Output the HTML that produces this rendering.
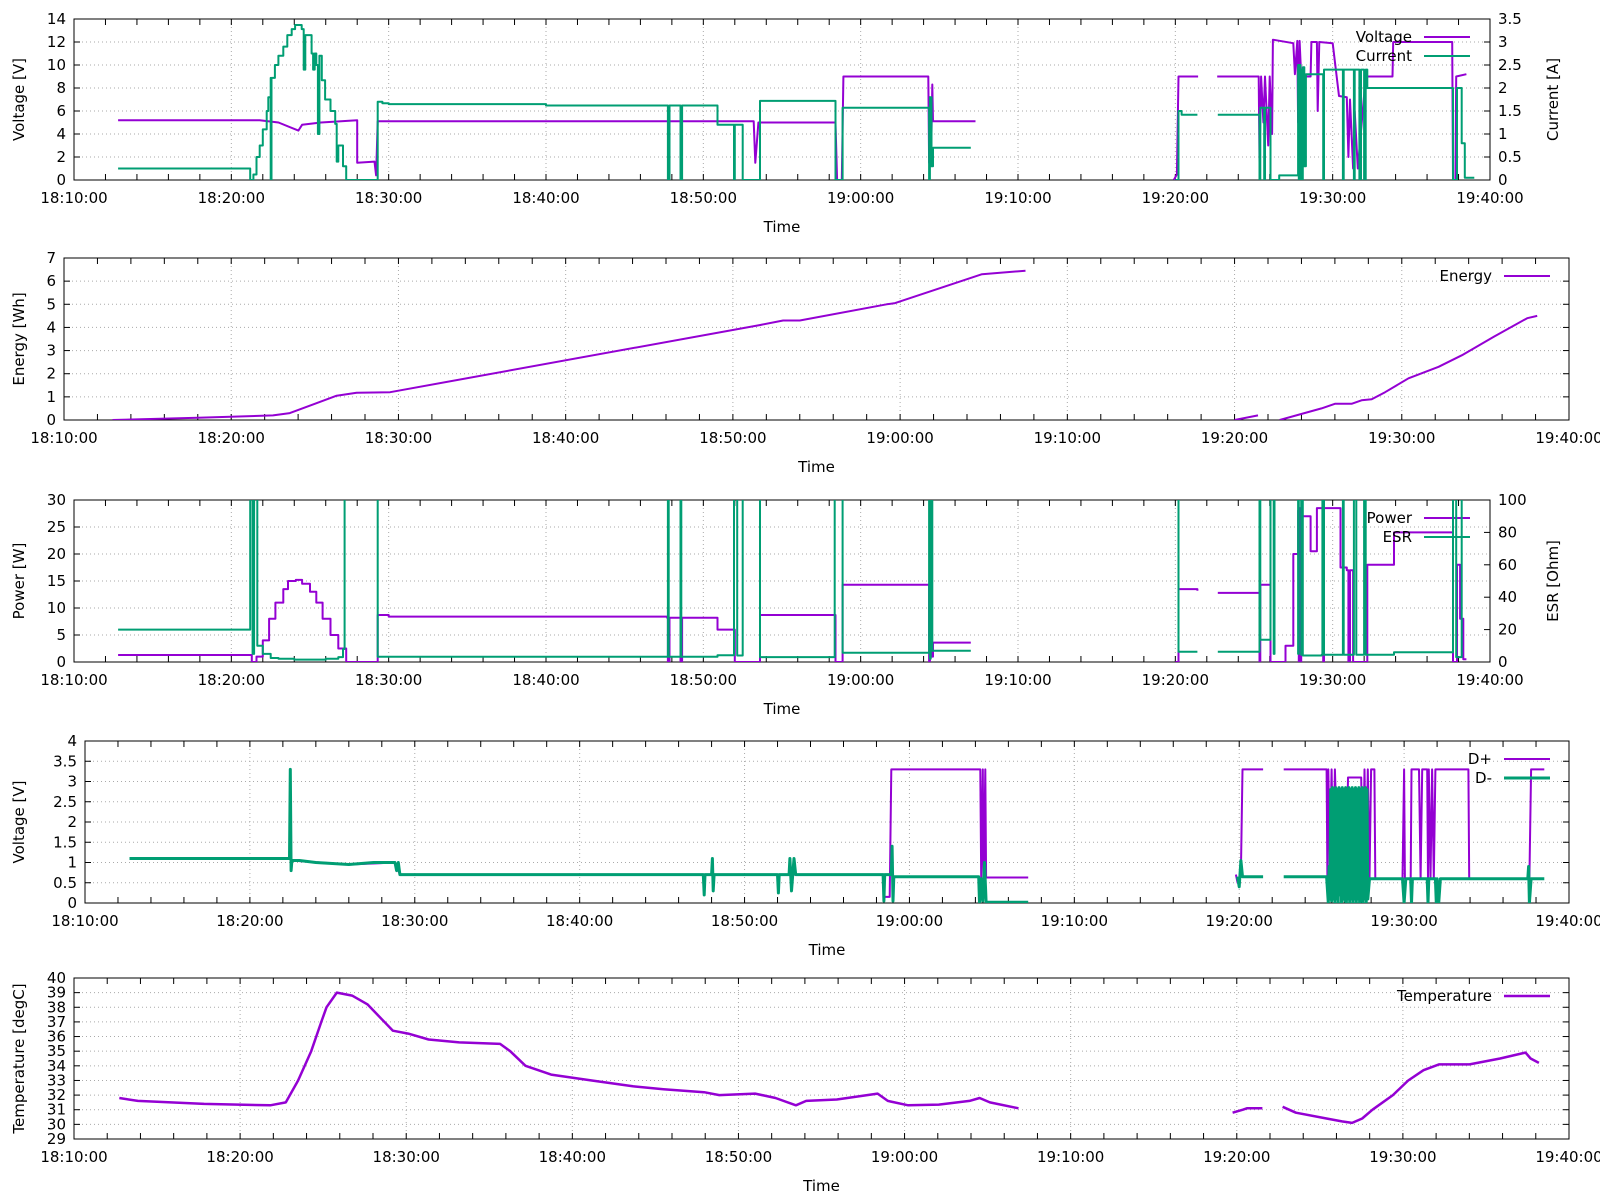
<!DOCTYPE html>
<html><head><meta charset="utf-8"><style>
html,body{margin:0;padding:0;background:#fff;}
svg{display:block;font-family:"DejaVu Sans","Liberation Sans",sans-serif;}
</style></head><body>
<svg id="chart" width="1600" height="1200" viewBox="0 0 1600 1200" xmlns="http://www.w3.org/2000/svg"></svg>
<script>
// ---- data (time in minutes after 18:10:00) ----
const xTickLabels = ["18:10:00","18:20:00","18:30:00","18:40:00","18:50:00","19:00:00","19:10:00","19:20:00","19:30:00","19:40:00"];
const voltageSeries = [[2.8,5.2],[11.8,5.2],[13,5.0],[14.26,4.3],[14.5,4.8],[15.7,5.0],[18.0,5.2],[18.0,1.5],[19.1,1.6],[19.2,0.4],[19.3,5.1],[43.2,5.1],[43.3,1.5],[43.5,5.0],[48.4,5.0],[48.5,0],[48.8,0],[48.9,9.0],[54.3,9.0],[54.35,1.5],[54.4,7.2],[54.5,4],[54.55,8.3],[54.6,5.1],[57.3,5.1],null,[69.9,0],[70.1,0.5],[70.2,9.0],[71.45,9.0],null,[72.66,9.0],[75.3,9.0],[75.35,1.5],[75.45,9],[75.6,5],[75.7,9],[75.9,3],[76.0,9],[76.15,4],[76.2,12.2],[77.5,11.9],[77.6,9.2],[77.75,12.1],[77.8,5],[77.9,12.1],[78.0,9.0],[78.6,9.0],[78.65,12],[79.0,12],[79.05,6],[79.15,12],[80.0,11.9],[80.4,7.3],[80.9,7.2],[81.0,2],[81.1,7.0],[81.3,1],[81.4,6],[81.6,1],[82.1,9.0],[83.8,9.0],[83.85,12.0],[87.6,12.0],[87.65,0],[87.8,0],[87.85,9.0],[88.5,9.2]];
const currentSeries = [[2.8,0.25],[11.2,0.25],[11.2,0],[11.4,0.12],[11.6,0.5],[11.8,0.75],[12.0,1.1],[12.25,1.5],[12.35,1.8],[12.5,2.22],[12.5,0],[12.55,2.22],[12.77,2.5],[12.99,2.7],[13.3,2.9],[13.56,3.15],[13.84,3.28],[14.05,3.37],[14.47,3.28],[14.6,2.4],[14.7,3.15],[14.8,3.15],[15.1,2.75],[15.2,2.4],[15.3,2.75],[15.4,2.5],[15.5,1.0],[15.6,2.7],[15.75,2.17],[15.96,1.75],[16.3,1.5],[16.6,1.22],[16.7,0.4],[16.8,0.75],[16.9,0.75],[17.1,0.3],[17.3,0],[19.2,0],[19.3,1.7],[19.6,1.67],[20,1.65],[30,1.62],[37.7,1.62],[37.75,0],[37.85,1.62],[38.5,1.62],[38.55,0],[38.65,1.62],[40.9,1.62],[40.9,1.2],[41.9,1.2],[41.95,0],[42.0,1.2],[42.5,0],[43.5,0],[43.6,1.72],[48.3,1.72],[48.4,0],[48.8,0],[48.85,1.57],[54.3,1.57],[54.35,0],[54.4,1.8],[54.5,0.3],[54.6,0.7],[57.0,0.7],null,[70.0,0],[70.2,1.5],[70.4,1.42],[71.4,1.42],null,[72.7,1.42],[75.3,1.42],[75.35,0],[75.4,1.57],[75.6,1.57],[75.65,0],[75.7,1.57],[76.0,1.57],[76.05,0],[76.3,0],[76.6,0.1],[77.2,0.1],[77.8,2.5],[77.85,0],[77.9,2.5],[77.95,0],[78.0,2.4],[78.05,0],[78.1,2.45],[78.2,0.3],[78.3,2.3],[78.6,2.3],[79.3,2.3],[79.4,0],[79.45,2.4],[80.6,2.4],[80.65,0],[80.7,2.4],[81.3,2.4],[81.35,0],[81.4,2.4],[81.7,0],[81.8,2.4],[82.0,0],[82.1,2.4],[82.2,2.0],[87.6,2.0],[87.65,0],[87.8,0],[87.9,2.0],[88.2,0.8],[88.4,0.05],[89,0.05]];
const energySeries = [[2.9,0],[8,0.1],[12.5,0.2],[13.5,0.3],[15,0.7],[16.3,1.05],[17.5,1.18],[19.5,1.2],[41.6,4.1],[43,4.3],[44,4.3],[49.2,5.0],[49.7,5.05],[54.9,6.3],[57.5,6.45],null,[70.0,0],[71.4,0.2],null,[72.7,0],[75.2,0.5],[76,0.7],[77,0.7],[77.6,0.85],[78.2,0.9],[79,1.2],[80.4,1.8],[82.2,2.3],[83.6,2.8],[85.5,3.6],[87.5,4.4],[88.1,4.5]];
const powerSeries = [[2.8,1.3],[11.2,1.3],[11.3,0],[11.6,1],[12,4],[12.4,8],[12.8,11],[13.3,13.5],[13.6,15],[14.1,15.2],[14.5,14.5],[15,13],[15.4,11],[15.8,8],[16.3,5],[16.8,2.5],[17.3,0],[19.2,0],[19.3,8.7],[20,8.4],[37.7,8.2],[37.75,0],[37.85,8.2],[38.5,8.2],[38.55,0],[38.65,8.2],[40.9,8.2],[40.9,6.0],[41.9,6.0],[42,0],[43.5,0],[43.6,8.7],[48.3,8.7],[48.4,0],[48.8,0],[48.85,14.3],[54.3,14.3],[54.35,0],[54.4,9.3],[54.5,1],[54.6,3.6],[57.0,3.6],null,[70.0,0],[70.2,13.5],[71.4,13.2],null,[72.7,12.8],[75.3,12.8],[75.35,0],[75.4,14.3],[76.0,14.3],[76.05,0],[76.6,0],[77.0,3],[77.5,20],[77.8,28],[77.85,0],[77.9,28.5],[77.95,0],[78.0,27],[78.6,20.5],[79.0,28.5],[79.4,0],[79.45,28.5],[80.2,28.5],[80.5,17.5],[80.9,17],[81.0,0],[81.1,17],[81.3,0],[82.1,0],[82.2,18],[83.9,18],[83.9,24],[87.6,24],[87.65,0],[87.8,0],[87.9,18],[88.1,8],[88.3,0.5],[88.5,0.5]];
const esrSeries = [[2.8,20],[11.2,20],[11.2,150],[11.3,150],[11.35,5],[11.45,150],[11.6,150],[11.65,10],[12,5],[12.5,2.5],[13,2],[14,1.5],[15,1.5],[16,2],[16.8,3],[17.1,8],[17.2,150],[19.2,150],[19.3,3.2],[37.7,3.2],[37.75,150],[37.8,3.2],[38.5,3.2],[38.55,150],[38.6,3.2],[40.9,3.2],[40.9,4.2],[41.9,4.2],[41.95,150],[42.1,150],[42.15,4],[42.5,150],[43.5,150],[43.6,3.0],[48.3,3.0],[48.35,150],[48.8,150],[48.85,5.7],[54.3,5.7],[54.35,150],[54.4,2],[54.45,150],[54.55,7],[57.0,7],null,[70,150],[70.2,6.3],[71.4,6.3],null,[72.7,6.3],[75.3,6.3],[75.35,150],[75.4,13.7],[76.0,13.7],[76.05,150],[76.2,150],[76.25,5],[76.3,150],[77.5,150],[77.8,5],[77.85,150],[78.0,4.5],[78.05,150],[78.1,4],[79.3,4.5],[79.35,150],[79.45,4.5],[80.6,4.5],[80.65,150],[80.7,4.5],[81.3,4.5],[81.35,150],[81.45,150],[81.5,4.5],[82.0,150],[82.1,4.5],[83.9,4.5],[83.9,6],[87.6,6],[87.65,150],[87.8,150],[87.85,3],[88.0,3],[88.2,150]];
const dPlusSeries = [[2.7,1.1],[12.4,1.1],[12.45,3.3],[12.5,1.05],[16,0.95],[18.8,1.0],[19.1,0.7],[48.4,0.7],[48.45,0.15],[48.8,0.15],[48.9,3.3],[54.3,3.3],[54.35,0.6],[54.45,3.3],[54.5,0.3],[54.6,3.3],[54.65,0.63],[57.2,0.63],null,[69.8,0.7],[69.9,0.5],[70.1,0.75],[70.2,3.3],[71.45,3.3],null,[72.7,3.3],[75.3,3.3],[75.35,0.6],[75.4,3.3],[75.5,1.0],[75.6,3.3],[75.7,0.6],[75.8,3.3],[76.0,0.6],[76.5,0.6],[76.6,3.1],[77.4,3.1],[77.5,0.6],[77.6,3.3],[77.7,0.6],[77.8,3.3],[77.9,0.6],[78.0,3.3],[78.2,3.3],[78.25,0.6],[79.9,0.6],[80.0,3.3],[80.05,0.6],[80.4,0.6],[80.45,3.3],[80.9,3.3],[81.0,0.6],[81.1,3.3],[81.4,3.3],[81.45,0.6],[81.5,3.3],[81.6,0.6],[81.7,3.3],[81.8,0.6],[81.9,3.3],[83.9,3.3],[83.95,0.6],[87.6,0.6],[87.7,3.3],[88.5,3.3]];
const dMinusSeries = [[2.7,1.1],[12.4,1.1],[12.45,3.3],[12.5,0.8],[12.55,1.05],[13,1.05],[14,1.0],[16,0.95],[17.5,1.0],[18.8,1.0],[18.9,0.8],[19.0,1.0],[19.1,0.7],[37.5,0.7],[37.55,0.2],[37.6,0.7],[38.0,0.7],[38.05,1.1],[38.1,0.3],[38.15,0.7],[42.0,0.7],[42.05,0.25],[42.1,0.7],[42.7,0.7],[42.75,1.1],[42.85,0.3],[43.0,1.1],[43.1,0.7],[48.4,0.7],[48.45,0.05],[48.5,0.7],[48.9,0.7],[48.95,1.4],[49.0,0.05],[49.05,0.65],[54.2,0.65],[54.25,0],[54.35,0.6],[54.45,0.05],[54.55,1.0],[54.65,0.02],[57.2,0.02],null,[69.9,0.65],[70.0,0.4],[70.1,1.05],[70.2,0.65],[71.45,0.65],null,[72.7,0.65],[75.3,0.65],[75.4,0],[75.45,0.9],[75.5,0.1],[75.55,2.8],[75.6,0.05],[75.65,2.85],[75.7,0.1],[75.75,2.8],[75.8,0],[75.85,2.85],[75.9,0.1],[75.95,2.8],[76.0,0],[76.05,2.85],[76.1,0.2],[76.15,2.8],[76.2,0],[76.25,2.85],[76.3,0.1],[76.35,2.8],[76.4,0.05],[76.45,2.85],[76.5,0],[76.55,2.8],[76.6,0.1],[76.65,2.85],[76.7,0],[76.75,2.8],[76.8,0.1],[76.85,2.85],[76.9,0],[76.95,2.8],[77.0,0.1],[77.05,2.85],[77.1,0],[77.15,2.8],[77.2,0.1],[77.25,2.85],[77.3,0],[77.35,2.8],[77.4,0.05],[77.45,2.85],[77.5,0],[77.55,2.8],[77.6,0.1],[77.65,2.85],[77.7,0],[77.75,2.8],[77.8,0.1],[77.9,0.6],[79.9,0.6],[80.0,0],[80.1,0.6],[80.4,0.6],[80.45,0],[80.5,0.6],[81.4,0.6],[81.45,0],[81.5,0.6],[81.9,0.6],[81.95,0],[82.0,0.6],[82.1,0],[82.2,0.6],[87.5,0.6],[87.55,0.9],[87.6,0],[87.7,0.6],[88.5,0.6]];
const temperatureSeries = [[2.73,31.8],[3.84,31.6],[7.83,31.4],[11.82,31.3],[12.75,31.5],[13.49,33],[14.28,35],[14.89,37],[15.2,38],[15.82,39],[16.74,38.8],[17.66,38.2],[19.2,36.4],[20.12,36.2],[21.35,35.8],[23.19,35.6],[25.65,35.5],[26.26,35],[27.18,34],[28.72,33.4],[31.17,33.0],[33.64,32.6],[35.48,32.4],[37.93,32.2],[38.85,32.0],[41.0,32.1],[42.23,31.8],[43.46,31.3],[44.08,31.6],[45.92,31.7],[48.38,32.1],[48.99,31.6],[50.22,31.3],[52.06,31.35],[53.91,31.6],[54.52,31.8],[55.14,31.5],[56.86,31.1],null,[69.75,30.8],[70.37,31.0],[70.61,31.1],[71.54,31.1],null,[72.76,31.2],[73.56,30.8],[75.4,30.4],[76.33,30.2],[76.94,30.1],[77.55,30.4],[78.17,31.0],[79.4,32.0],[80.32,33.0],[81.24,33.7],[82.17,34.1],[84.01,34.1],[85.85,34.5],[87.38,34.9],[87.69,34.5],[88.19,34.2]];

const PURPLE="#9400d3", GREEN="#009e73";
const svg=document.getElementById('chart');
const NS="http://www.w3.org/2000/svg";
function mk(tag,attrs,parent){const e=document.createElementNS(NS,tag);for(const k in attrs)e.setAttribute(k,attrs[k]);(parent||svg).appendChild(e);return e;}
function txt(s,x,y,anchor,parent,extra){const t=mk('text',Object.assign({x:x,y:y,'text-anchor':anchor,'font-size':15,fill:'#000'},extra||{}),parent);t.textContent=s;return t;}

function panel(id,cfg){
  const g=mk('g',{});
  
  
  const X=t=>cfg.x0+(t/90)*(cfg.x1-cfg.x0);
  const Y=v=>cfg.y1-(v-cfg.ymin)/(cfg.ymax-cfg.ymin)*(cfg.y1-cfg.y0);
  const Y2=v=>cfg.y1-(v/cfg.y2max)*(cfg.y1-cfg.y0);
  for(let i=1;i<9;i++){const x=X(i*10);mk('line',{x1:x,x2:x,y1:cfg.y0,y2:cfg.y1,stroke:'#aaa','stroke-width':1,'stroke-dasharray':'1,3'},g);}
  const nY=Math.round((cfg.ymax-cfg.ymin)/cfg.ystep);
  for(let i=1;i<nY;i++){const y=Y(cfg.ymin+i*cfg.ystep);mk('line',{x1:cfg.x0,x2:cfg.x1,y1:y,y2:y,stroke:'#aaa','stroke-width':1,'stroke-dasharray':'1,3'},g);}
  for(let i=0;i<=45;i++){const x=X(i*2);mk('line',{x1:x,x2:x,y1:cfg.y1,y2:cfg.y1-6,stroke:'#000'},g);mk('line',{x1:x,x2:x,y1:cfg.y0,y2:cfg.y0+6,stroke:'#000'},g);}
  xTickLabels.forEach((s,i)=>{const t=txt(s,X(i*10),cfg.y1+23,'middle',g);
    
    });
  for(let i=0;i<=nY;i++){const v=cfg.ymin+i*cfg.ystep,y=Y(v);
    mk('line',{x1:cfg.x0,x2:cfg.x0+6,y1:y,y2:y,stroke:'#000'},g);
    if(!cfg.y2max) mk('line',{x1:cfg.x1,x2:cfg.x1-6,y1:y,y2:y,stroke:'#000'},g);
    const t=txt(String(+v.toFixed(2)),cfg.x0-8,y+5,'end',g);
    
    }
  if(cfg.y2max){const n2=Math.round(cfg.y2max/cfg.y2step);
    for(let i=0;i<=n2;i++){const v=i*cfg.y2step,y=Y2(v);mk('line',{x1:cfg.x1,x2:cfg.x1-6,y1:y,y2:y,stroke:'#000'},g);
      const t=txt(String(+v.toFixed(2)),cfg.x1+8,y+5,'start',g);
      
      }
    const yt=txt(cfg.y2title,0,0,'middle',g,{transform:`translate(${cfg.x1+68},${(cfg.y0+cfg.y1)/2}) rotate(-90)`});
    
    }
  mk('rect',{x:cfg.x0,y:cfg.y0,width:cfg.x1-cfg.x0,height:cfg.y1-cfg.y0,fill:'none',stroke:'#000','stroke-width':1},g);
  const xt=txt('Time',(cfg.x0+cfg.x1)/2,cfg.y1+52,'middle',g);
  
  
  const ytt=txt(cfg.ytitle,0,0,'middle',g,{transform:`translate(24,${(cfg.y0+cfg.y1)/2}) rotate(-90)`});
  
  
  const cp=mk('clipPath',{id:'clip-'+id},g);
  mk('rect',{x:cfg.x0,y:cfg.y0,width:cfg.x1-cfg.x0,height:cfg.y1-cfg.y0},cp);
  cfg.series.forEach((s,si)=>{
    const yf=s.axis2?Y2:Y;let d='',pen=false,prevY=0;
    s.data.forEach(p=>{if(!p){pen=false;return;}
      const px=X(p[0]).toFixed(1),py=yf(p[1]).toFixed(1);
      if(pen&&s.steps){d+='L'+px+','+prevY;}
      d+=(pen?'L':'M')+px+','+py;prevY=py;pen=true;});
    const path=mk('path',{d:d,fill:'none',stroke:s.color,'stroke-width':s.w||2,'stroke-linejoin':'round','clip-path':`url(#clip-${id})`},g);
    
    
    const ly=cfg.y0+18+si*19;
    const lt=txt(s.label,cfg.legX,ly+5,'end',g);
    
    
    mk('line',{x1:cfg.legX+12,x2:cfg.legX+58,y1:ly,y2:ly,stroke:s.color,'stroke-width':s.w||2},g);
  });
}
panel('voltage-current',{x0:74,x1:1490,y0:19,y1:180,ymin:0,ymax:14,ystep:2,y2max:3.5,y2step:0.5,ytitle:'Voltage [V]',y2title:'Current [A]',legX:1412,
  series:[{name:'voltage',label:'Voltage',color:PURPLE,data:voltageSeries},{name:'current',label:'Current',color:GREEN,data:currentSeries,axis2:true,steps:true}]});
panel('energy',{x0:64,x1:1569,y0:258,y1:420,ymin:0,ymax:7,ystep:1,ytitle:'Energy [Wh]',legX:1492,
  series:[{name:'energy',label:'Energy',color:PURPLE,data:energySeries}]});
panel('power-esr',{x0:74,x1:1490,y0:500,y1:662,ymin:0,ymax:30,ystep:5,y2max:100,y2step:20,ytitle:'Power [W]',y2title:'ESR [Ohm]',legX:1412,
  series:[{name:'power',label:'Power',color:PURPLE,data:powerSeries,steps:true},{name:'esr',label:'ESR',color:GREEN,data:esrSeries,axis2:true,steps:true}]});
panel('data-lines',{x0:85,x1:1569,y0:741,y1:903,ymin:0,ymax:4,ystep:0.5,ytitle:'Voltage [V]',legX:1492,
  series:[{name:'d-plus',label:'D+',color:PURPLE,data:dPlusSeries},{name:'d-minus',label:'D-',color:GREEN,data:dMinusSeries,w:3}]});
panel('temperature',{x0:74,x1:1569,y0:978,y1:1139,ymin:29,ymax:40,ystep:1,ytitle:'Temperature [degC]',legX:1492,
  series:[{name:'temperature',label:'Temperature',color:PURPLE,data:temperatureSeries,w:2.5}]});
</script>
</body></html>
